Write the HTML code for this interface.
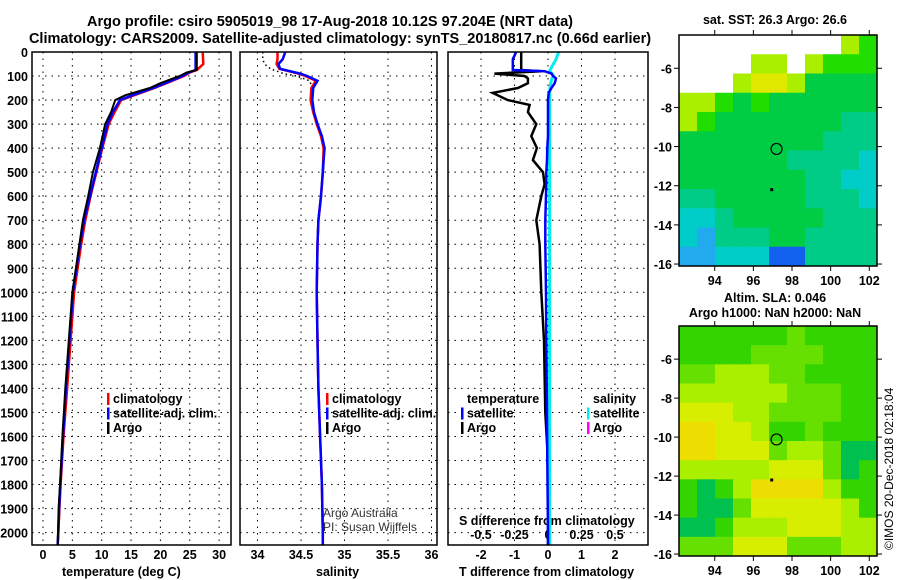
<!DOCTYPE html>
<html><head><meta charset="utf-8"><style>
body{margin:0;background:#fff}
svg{display:block;font-family:"Liberation Sans",Arial,sans-serif;font-weight:bold}
</style></head><body>
<svg id="c" width="900" height="580" viewBox="0 0 900 580" xmlns="http://www.w3.org/2000/svg">
<text x="330" y="26" text-anchor="middle" font-size="14.5">Argo profile: csiro 5905019_98 17-Aug-2018 10.12S 97.204E (NRT data)</text>
<text x="340" y="43" text-anchor="middle" font-size="14.5">Climatology: CARS2009. Satellite-adjusted climatology: synTS_20180817.nc (0.66d earlier)</text>
<text x="775" y="24" text-anchor="middle" font-size="12.5">sat. SST: 26.3 Argo: 26.6</text>
<text x="775" y="302" text-anchor="middle" font-size="12.5">Altim. SLA: 0.046</text>
<text x="775" y="317" text-anchor="middle" font-size="12.5">Argo h1000: NaN h2000: NaN</text>
<text transform="translate(893,550) rotate(-90)" font-size="12" font-weight="normal">©IMOS 20-Dec-2018 02:18:04</text>
<text x="62" y="576" font-size="12.5">temperature (deg C)</text>
<text x="316" y="576" font-size="12.5">salinity</text>
<text x="459" y="576" font-size="12.5">T difference from climatology</text>
<text x="459" y="525" font-size="12.5">S difference from climatology</text>
<text x="323" y="517" font-size="12" font-weight="normal" fill="#333">Argo Australia</text>
<text x="323" y="531" font-size="12" font-weight="normal" fill="#333">PI: Susan Wijffels</text>
<g id="g"></g>
</svg>
<script>
// ---- data ----
const depthTicks=[0,100,200,300,400,500,600,700,800,900,1000,1100,1200,1300,1400,1500,1600,1700,1800,1900,2000];
const tempTicks=[0,5,10,15,20,25,30];
const salTicks=[34,34.5,35,35.5,36];
const salTickLabels=["34","34.5","35","35.5","36"];
const tdTicks=[-2,-1,0,1,2];
const sdTicks=[-0.5,-0.25,0,0.25,0.5];
const sdTickLabels=["-0.5","-0.25","0","0.25","0.5"];
const tDepth=[0,50,75,85,100,130,150,180,200,250,300,400,500,600,700,800,900,1000,1200,1400,1600,1800,1900,2000,2050];
const tArgo=[26.2,26.2,26.2,24.5,23.3,20,18.2,14,12.3,11.6,10.6,9.7,8.5,7.7,6.8,6.2,5.6,5.0,4.4,3.8,3.3,2.9,2.65,2.55,2.5];
const tClim=[27.2,27.3,26.2,25,24,21,19,15.5,13.3,12.2,11.2,10.1,9.1,8.1,7.2,6.5,5.9,5.3,4.7,4.1,3.5,3.0,2.8,2.6,2.5];
const tSat=[26.0,26.0,26.0,24.8,23.8,20.8,18.8,15.2,13.1,11.9,11.0,10.0,9.0,8.0,7.0,6.3,5.7,5.1,4.5,3.9,3.4,2.95,2.75,2.6,2.5];
const sDepth=[0,30,50,70,90,100,120,150,200,250,300,350,400,500,600,700,800,1000,1200,1400,1600,1800,2000,2050];
const sSat=[34.32,34.29,34.24,34.26,34.49,34.57,34.69,34.64,34.63,34.65,34.69,34.74,34.77,34.75,34.73,34.70,34.69,34.68,34.69,34.70,34.72,34.74,34.75,34.75];
const sClim=[34.23,34.23,34.22,34.25,34.47,34.55,34.67,34.62,34.61,34.64,34.68,34.73,34.76,34.75,34.73,34.70,34.69,34.68,34.69,34.70,34.72,34.74,34.75,34.75];
const sArgo=[34.06,34.06,34.08,34.15,34.30,34.45,34.60,34.63,34.61,34.64,34.69,34.74,34.76,34.75,34.73,34.70,34.69,34.68,34.69,34.70,34.72,34.74,34.75,34.75];
const dDepth=[0,30,75,80,90,100,110,130,150,170,200,220,250,300,350,400,450,500,550,600,700,800,1000,1200,1500,1700,2000,2050];
const dtArgo=[-0.8,-0.8,-0.8,-0.2,-1.6,-0.7,-0.6,-0.6,-0.9,-1.65,-1.2,-0.55,-0.6,-0.35,-0.5,-0.33,-0.45,-0.15,-0.1,-0.2,-0.35,-0.25,-0.2,-0.12,-0.08,0,0,0];
const dtSat=[-0.95,-1.05,-1.05,-0.1,0.1,0.15,0.24,0.2,0.1,0.02,0,0,0,0,0,-0.02,-0.03,-0.05,-0.05,-0.06,-0.08,-0.08,-0.06,-0.05,-0.03,-0.02,0,0];
const dsSat=[0.08,0.06,0.015,0.015,0.03,0.04,0.03,0.02,0.015,0.012,0.012,0.012,0.012,0.012,0.012,0.012,0.012,0.012,0.012,0.012,0.012,0.012,0.012,0.012,0.012,0.012,0.012,0.012];
const mapLonTicks=[94,96,98,100,102];
const mapLatTicks=[-6,-8,-10,-12,-14,-16];
const sstGrid=[
[0,0,0,0,0,0,0,0,0,2,3],
[0,0,0,0,2,2,0,2,3,3,3],
[0,0,0,2,1,1,2,4,4,4,4],
[2,2,3,4,3,4,4,4,4,4,4],
[2,3,4,4,4,4,4,4,4,5,5],
[4,4,4,4,4,4,4,4,5,5,5],
[4,4,4,4,4,4,5,5,5,5,6],
[4,4,4,4,4,4,4,5,5,6,6],
[5,5,4,4,4,4,4,5,5,5,6],
[6,6,5,4,4,4,4,4,5,5,5],
[6,7,5,5,5,4,4,5,5,5,5],
[7,7,6,6,6,8,8,5,5,5,5]];
const sstColors=["#ffffff","#e0e800","#aaee00","#22dd00","#00cc44","#00cc88","#00ccc8","#22aaee","#1160ee"];
const slaGrid=[
[3,3,3,3,3,3,4,3,3,3,3],
[3,3,3,3,4,4,4,4,3,3,3],
[4,4,5,5,5,4,4,3,3,3,3],
[5,5,5,5,5,5,4,4,4,3,3],
[6,6,6,5,5,4,4,4,4,3,3],
[7,7,6,6,5,3,3,4,3,3,3],
[7,7,6,6,6,4,5,5,4,2,2],
[5,5,5,5,5,6,6,6,4,2,3],
[3,2,3,5,7,7,7,7,5,3,3],
[3,2,2,4,6,6,6,6,6,5,3],
[2,2,3,5,5,5,6,6,6,5,5],
[4,4,4,6,6,6,4,4,4,5,5]];
const slaColors=["#fff","#fff","#00c050","#33d400","#66e000","#aaee00","#d8ee00","#eedd00"];

// ---- helpers ----
const NS="http://www.w3.org/2000/svg";
const G=document.getElementById('g');
function mk(t,a,p){const e=document.createElementNS(NS,t);for(const k in a)e.setAttribute(k,a[k]);(p||G).appendChild(e);return e;}
const yD=d=>52+0.2403*d;
const xT=t=>43+5.87*t;
const xS=s=>257.5+87*(s-34);
const xDT=t=>548+33.5*t;
const xDS=s=>548+134*s;
const panels=[[32,231],[240,437],[448,648]];

panels.forEach((p,i)=>{
  depthTicks.forEach(d=>{if(d>0){const l=mk('line',{x1:p[0],x2:p[1],y1:yD(d),y2:yD(d),stroke:'#000','stroke-dasharray':'1.5,5'});
  }});
});
depthTicks.forEach(d=>{const t=mk('text',{x:28,y:yD(d)+5,'text-anchor':'end','font-size':12.5});t.textContent=d;
});
function vgrid(xs,p){xs.forEach(x=>{const l=mk('line',{x1:x,x2:x,y1:52,y2:545,stroke:'#000','stroke-dasharray':'1.5,5'});
});}
vgrid(tempTicks.map(xT));vgrid(salTicks.map(xS));vgrid(tdTicks.map(xDT));
tempTicks.forEach(t=>{const e=mk('text',{x:xT(t),y:559,'text-anchor':'middle','font-size':12.5});e.textContent=t;
});
salTicks.forEach((s,i)=>{const e=mk('text',{x:xS(s),y:559,'text-anchor':'middle','font-size':12.5});e.textContent=salTickLabels[i];
});
tdTicks.forEach(t=>{const e=mk('text',{x:xDT(t),y:559,'text-anchor':'middle','font-size':12.5});e.textContent=t;
});
sdTicks.forEach((s,i)=>{const e=mk('text',{x:xDS(s),y:539,'text-anchor':'middle','font-size':12.5});e.textContent=sdTickLabels[i];
});

function line(xs,ds,fx,col,w,name,dash){const pts=xs.map((v,i)=>fx(v).toFixed(1)+','+yD(ds[i]).toFixed(1)).join(' ');
const a={points:pts,fill:'none',stroke:col,'stroke-width':w};if(dash)a['stroke-dasharray']=dash;const e=mk('polyline',a);
}
line(tClim,tDepth,xT,'#f00',2.5,'temperature-climatology-line');
line(tSat,tDepth,xT,'#00f',2.5,'temperature-satellite-line');
line(tArgo,tDepth,xT,'#000',2,'temperature-argo-line');
line(sArgo,sDepth,xS,'#000',1.5,'salinity-argo-line','1.5,3');
line(sClim,sDepth,xS,'#f00',2.5,'salinity-climatology-line');
line(sSat,sDepth,xS,'#00f',2.5,'salinity-satellite-line');
line(dtArgo,dDepth,xDT,'#000',2.5,'t-diff-argo-line');
line(dsSat,dDepth,xDS,'#0ee',3,'s-diff-satellite-line');
line(dtSat,dDepth,xDT,'#00f',2.5,'t-diff-satellite-line');

panels.forEach(p=>{const r=mk('rect',{x:p[0],y:52,width:p[1]-p[0],height:493,fill:'none',stroke:'#000','stroke-width':1.5});
});

function legend(x,y,items){items.forEach((it,i)=>{
  if(it[0]){const r=mk('rect',{x:x,y:y+i*14.5-10,width:2.5,height:12,fill:it[0]});}
  const t=mk('text',{x:x+6,y:y+i*14.5,'font-size':12.5});t.textContent=it[1];
  });}
legend(107,403,[['#f00','climatology'],['#00f','satellite-adj. clim.'],['#000','Argo']]);
legend(326,403,[['#f00','climatology'],['#00f','satellite-adj. clim.'],['#000','Argo']]);
legend(461,403,[[null,'temperature'],['#00f','satellite'],['#000','Argo']]);
legend(587,403,[[null,'salinity'],['#0ee','satellite'],['#f0f','Argo']]);

function map(y0,y1,grid,cols,name){
  const x0=679,x1=877,lonA=92.15,lonB=102.4,latA=-4.3,latB=-16.1;
  const lx=l=>x0+(l-lonA)/(lonB-lonA)*(x1-x0), ly=l=>y0+(l-latA)/(latB-latA)*(y1-y0);
  const nr=grid.length,nc=grid[0].length,cw=(x1-x0)/nc,ch=(y1-y0)/nr;
  grid.forEach((row,r)=>row.forEach((v,c)=>{const e=mk('rect',{x:x0+c*cw,y:y0+r*ch,width:cw+0.5,height:ch+0.5,fill:cols[v]});
    }));
  const f=mk('rect',{x:x0,y:y0,width:x1-x0,height:y1-y0,fill:'none',stroke:'#000','stroke-width':1.5});
  
  mapLonTicks.forEach(l=>{const t=mk('text',{x:lx(l),y:y1+19,'text-anchor':'middle','font-size':12.5});t.textContent=l;
    
    mk('line',{x1:lx(l),x2:lx(l),y1:y1,y2:y1+5,stroke:'#000'});mk('line',{x1:lx(l),x2:lx(l),y1:y0,y2:y0-5,stroke:'#000'});});
  mapLatTicks.forEach(l=>{const t=mk('text',{x:672,y:ly(l)+5,'text-anchor':'end','font-size':12.5});t.textContent=l;
    
    mk('line',{x1:x0,x2:x0-5,y1:ly(l),y2:ly(l),stroke:'#000'});mk('line',{x1:x1,x2:x1+5,y1:ly(l),y2:ly(l),stroke:'#000'});});
  const c=mk('circle',{cx:lx(97.2),cy:ly(-10.12),r:5.5,fill:'none',stroke:'#000','stroke-width':1.2});
  
  mk('rect',{x:lx(96.95)-1.5,y:ly(-12.2)-1.5,width:3,height:3,fill:'#000'});
}
map(35,266,sstGrid,sstColors,'sst-map');
map(326,556,slaGrid,slaColors,'sla-map');
</script>
</body></html>
